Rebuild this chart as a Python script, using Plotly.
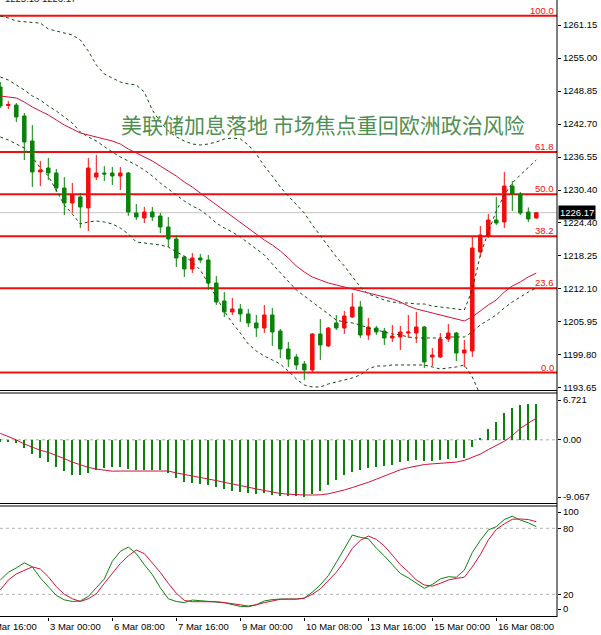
import plotly.graph_objects as go

# ---------------- data ----------------
bars = list(range(68))   # H4 bars, bar 0 = 2 Mar 00:00

open_ = [1249.60, 1246.15, 1246.24, 1244.19, 1239.53, 1233.76, 1234.50, 1233.57, 1230.77, 1227.98,
         1229.10, 1227.05, 1232.82, 1233.57, 1233.57, 1233.01, 1233.57, 1226.11, 1225.18, 1226.30,
         1225.56, 1223.51, 1221.27, 1217.92, 1215.68, 1217.73, 1217.36, 1213.07, 1209.72, 1207.67,
         1208.23, 1207.30, 1205.62, 1204.68, 1207.11, 1204.12, 1200.77, 1199.28, 1197.97, 1196.86,
         1203.57, 1201.33, 1205.62, 1204.68, 1206.74, 1208.60, 1203.38, 1204.68, 1204.12, 1202.82,
         1203.01, 1203.75, 1203.75, 1204.87, 1199.28, 1199.28, 1202.63, 1203.75, 1200.02, 1200.40,
         1218.85, 1221.83, 1224.81, 1224.44, 1231.14, 1229.65, 1226.30, 1225.18]
high = [1250.53, 1246.98, 1246.61, 1244.75, 1242.52, 1235.81, 1236.37, 1234.32, 1232.82, 1231.70,
        1229.84, 1236.37, 1236.93, 1234.87, 1234.69, 1234.69, 1233.76, 1227.79, 1227.23, 1227.23,
        1226.11, 1225.37, 1222.02, 1218.10, 1218.66, 1218.48, 1218.29, 1214.37, 1211.39, 1210.28,
        1209.16, 1208.23, 1207.11, 1208.97, 1208.41, 1204.50, 1202.07, 1199.84, 1198.53, 1203.75,
        1206.36, 1204.87, 1207.11, 1207.86, 1211.21, 1209.72, 1206.55, 1205.06, 1204.68, 1205.24,
        1205.06, 1207.11, 1207.67, 1205.06, 1200.96, 1203.75, 1205.43, 1203.94, 1202.45, 1221.64,
        1223.69, 1225.93, 1229.10, 1233.76, 1232.08, 1230.03, 1227.16, 1226.30]
low = [1245.68, 1245.50, 1243.08, 1235.99, 1230.96, 1231.14, 1232.26, 1230.03, 1225.74, 1226.11,
       1223.32, 1222.76, 1232.26, 1232.08, 1231.33, 1230.40, 1225.56, 1224.81, 1224.25, 1224.62,
       1222.39, 1219.78, 1216.05, 1214.19, 1214.93, 1216.80, 1211.77, 1208.97, 1206.74, 1207.11,
       1205.80, 1204.87, 1203.01, 1203.75, 1201.33, 1199.09, 1197.42, 1196.86, 1194.99, 1196.48,
       1198.72, 1201.14, 1204.31, 1203.57, 1206.55, 1202.82, 1202.45, 1203.38, 1201.52, 1202.07,
       1200.58, 1202.82, 1201.89, 1197.23, 1197.60, 1199.09, 1202.07, 1198.53, 1197.42, 1199.28,
       1217.92, 1221.46, 1223.88, 1223.32, 1226.49, 1225.74, 1224.44, 1225.10]
close = [1246.05, 1246.34, 1244.01, 1239.35, 1233.76, 1234.13, 1233.57, 1230.77, 1227.98, 1229.47,
         1227.23, 1234.50, 1233.57, 1233.38, 1233.01, 1233.57, 1226.30, 1225.37, 1226.30, 1225.37,
         1223.51, 1221.27, 1217.73, 1215.68, 1217.73, 1217.36, 1213.07, 1209.53, 1207.67, 1208.23,
         1207.30, 1205.62, 1204.68, 1207.11, 1203.94, 1200.77, 1198.90, 1197.79, 1196.86, 1203.57,
         1201.52, 1204.68, 1204.68, 1206.92, 1208.60, 1203.38, 1204.87, 1203.94, 1202.82, 1203.19,
         1203.94, 1203.94, 1204.87, 1198.35, 1199.65, 1202.63, 1203.75, 1200.02, 1200.58, 1219.59,
         1222.02, 1224.81, 1224.25, 1231.14, 1229.65, 1226.11, 1225.00, 1226.17]

# Bollinger bands (dashed) and moving average (red)
bb_upper = [1262.83, 1262.46, 1261.90, 1261.71, 1261.62, 1261.52, 1260.41, 1260.03, 1259.66, 1259.29,
            1258.36, 1256.31, 1253.70, 1252.02, 1251.27, 1250.53, 1250.16, 1249.97, 1248.66, 1245.31,
            1243.08, 1241.40, 1240.28, 1239.53, 1238.97, 1238.79, 1238.97, 1239.35, 1239.91, 1240.09,
            1239.91, 1238.79, 1237.11, 1234.87, 1233.01, 1230.96, 1229.28, 1227.79, 1226.11, 1223.88,
            1221.83, 1219.78, 1217.92, 1216.24, 1214.37, 1212.32, 1211.02, 1210.46, 1209.90, 1209.53,
            1209.34, 1209.34, 1209.16, 1209.16, 1208.78, 1208.60, 1208.41, 1208.23, 1208.04, 1211.77,
            1218.29, 1222.57, 1226.49, 1229.47, 1231.70, 1233.20, 1234.69, 1235.99]
bb_mid = [1251.46, 1250.90, 1249.97, 1249.04, 1247.92, 1247.17, 1246.06, 1245.12, 1244.01, 1242.89,
          1241.21, 1240.28, 1239.53, 1238.42, 1237.48, 1236.55, 1235.81, 1235.06, 1234.13, 1233.01,
          1231.70, 1230.59, 1229.47, 1228.35, 1227.42, 1226.67, 1225.56, 1224.25, 1223.32, 1222.57,
          1221.64, 1220.52, 1219.41, 1218.29, 1216.61, 1214.93, 1213.44, 1211.77, 1210.65, 1209.53,
          1208.41, 1207.30, 1206.17, 1205.80, 1205.62, 1205.24, 1204.68, 1204.31, 1203.94, 1203.57,
          1203.38, 1203.01, 1202.82, 1202.82, 1202.82, 1202.82, 1203.01, 1203.01, 1203.01, 1203.94,
          1205.24, 1206.17, 1207.11, 1208.41, 1209.53, 1210.46, 1211.39, 1212.14]
bb_lower = [1240.28, 1239.72, 1238.97, 1238.23, 1236.55, 1234.50, 1233.01, 1230.40, 1227.61, 1225.93,
            1224.07, 1224.44, 1224.62, 1224.44, 1224.07, 1223.32, 1222.20, 1220.71, 1220.52, 1220.34,
            1220.15, 1219.78, 1218.85, 1218.10, 1216.98, 1215.49, 1213.07, 1210.46, 1207.85, 1205.62,
            1203.75, 1201.70, 1200.40, 1199.46, 1198.72, 1197.97, 1196.67, 1195.18, 1194.06, 1193.69,
            1193.69, 1194.25, 1194.62, 1194.99, 1195.37, 1195.93, 1197.04, 1197.60, 1197.60, 1197.79,
            1197.79, 1197.79, 1197.79, 1197.79, 1197.42, 1197.04, 1197.23, 1197.42, 1197.79, 1195.55,
            1192.20, 1189.80]
ma_red = [1247.92, 1247.73, 1247.55, 1246.80, 1245.87, 1245.12, 1244.38, 1243.45, 1242.52, 1241.77,
          1241.02, 1240.65, 1240.28, 1239.91, 1239.53, 1238.97, 1238.04, 1237.30, 1236.55, 1235.81,
          1234.87, 1233.94, 1233.01, 1231.89, 1230.96, 1229.84, 1228.73, 1227.61, 1226.49, 1225.37,
          1224.25, 1223.13, 1222.02, 1221.08, 1220.15, 1219.03, 1217.73, 1216.24, 1215.12, 1214.19,
          1213.63, 1213.07, 1212.70, 1212.32, 1211.95, 1211.58, 1211.21, 1210.83, 1210.46, 1210.09,
          1209.53, 1208.78, 1208.23, 1207.85, 1207.48, 1207.11, 1206.74, 1206.36, 1205.99, 1206.74,
          1207.85, 1208.97, 1209.90, 1211.39, 1212.51, 1213.26, 1214.19, 1214.93]

current_price = 1226.17
fib_levels = [1196.38, 1212.08, 1221.79, 1229.63, 1237.48, 1262.89]
fib_labels = ["0.0", "23.6", "38.2", "50.0", "61.8", "100.0"]

price_ticks = [1261.15, 1255.00, 1248.85, 1242.70, 1236.55, 1230.40, 1224.40,
               1218.25, 1212.10, 1205.95, 1199.80, 1193.65]
price_tick_text = ["%.2f" % v for v in price_ticks]

# MACD
macd_hist = [-0.25, -0.3, -0.5, -1.2, -2.0, -2.6, -3.2, -3.9, -4.5, -5.0,
             -5.1, -4.8, -4.4, -4.1, -3.9, -3.9, -4.2, -4.3, -4.3, -4.4,
             -4.4, -4.8, -5.5, -6.0, -6.2, -6.3, -6.5, -6.8, -7.0, -7.3,
             -7.5, -7.6, -7.8, -7.7, -7.9, -8.0, -8.0, -8.1, -8.2, -7.8,
             -7.3, -6.5, -5.8, -5.0, -4.6, -4.3, -4.1, -3.9, -3.8, -3.6,
             -3.2, -3.0, -2.9, -3.0, -3.1, -2.9, -2.7, -2.6, -2.6, -1.1,
             0.2, 1.6, 2.6, 3.8, 4.5, 5.0, 5.1, 5.1]
macd_signal = [0.93, 0.5, 0.0, -0.6, -1.1, -1.5, -1.8, -2.2, -2.7, -3.2,
               -3.6, -3.95, -4.2, -4.4, -4.5, -4.48, -4.48, -4.48, -4.48, -4.48,
               -4.48, -4.48, -4.75, -4.95, -5.2, -5.45, -5.65, -5.85, -6.1, -6.3,
               -6.55, -6.8, -7.05, -7.3, -7.55, -7.7, -7.8, -7.9, -7.92, -7.92,
               -7.9, -7.75, -7.5, -7.2, -6.85, -6.5, -6.1, -5.65, -5.2, -4.75,
               -4.3, -4.0, -3.75, -3.55, -3.45, -3.38, -3.3, -3.2, -2.95, -2.55,
               -2.05, -1.4, -0.75, -0.2, 0.6, 1.65, 2.4, 3.1]
macd_max, macd_min = 6.721, -9.067

# Stochastic
stoch_k = [33, 40, 44, 48.7, 45, 35, 27, 19, 15, 13.5,
           14, 18, 26, 34, 50, 59, 63, 57, 47, 38,
           26, 16, 13.5, 12.5, 14.8, 14, 13.3, 13, 12.4, 11,
           9, 8.7, 10.5, 14, 15.2, 15.7, 15.7, 15.7, 16.5, 22,
           28.5, 37, 49, 61, 73.9, 71.8, 70.5, 62, 55, 47,
           39, 35, 30, 25.4, 29, 34, 36, 35.5, 42, 58,
           69, 78.5, 81.5, 88, 91, 87.5, 85, 81.5]
stoch_d = [23.9, 33, 38.5, 42, 45, 43, 36, 27, 20, 16,
           13.5, 16, 20.5, 30, 39, 48, 55, 60.3, 57, 49,
           40, 30, 21, 14.5, 13.3, 13.3, 13.3, 13.3, 12.5, 11.8,
           10.5, 9.4, 10.5, 12.4, 14, 15.5, 15.7, 15.7, 16.5, 20,
           25, 33, 40, 50, 61.8, 69, 73, 70, 64, 55.7,
           47, 40.5, 33, 28.5, 27.5, 30, 33, 34.5, 35.5, 45,
           56, 69.4, 79, 84, 88.2, 88.5, 88, 86]
stoch_levels = [80, 20]

x_label_bars = [-2, 6, 14, 22, 30, 38, 46, 54, 62]
x_labels = ["1 Mar 16:00", "3 Mar 00:00", "6 Mar 08:00", "7 Mar 16:00", "9 Mar 00:00",
            "10 Mar 08:00", "13 Mar 16:00", "15 Mar 00:00", "16 Mar 08:00"]

title_text = "美联储加息落地 市场焦点重回欧洲政治风险"

# ---------------- styling / layout ----------------
W, H = 601, 635
ML, MR, MT, MB = 0, 44, 0, 18
PH = H - MT - MB          # plot area height in px


def py(px):
    """pixel row (from top of plot area) -> paper fraction"""
    return (PH - px) / PH


X_MIN, X_MAX = -0.0375, 69.5875


def px_of_bar(k):
    return (k - X_MIN) / (X_MAX - X_MIN)


RED = "#f40d0d"
GREEN = "#0b830b"
DGREEN = "#114a11"
MARED = "#d2123a"
FONT = "Liberation Sans, Arial, sans-serif"
FS = 9.5

fig = go.Figure()

fig.add_trace(go.Candlestick(
    x=bars, open=open_, high=high, low=low, close=close,
    increasing=dict(line=dict(color=RED, width=1), fillcolor=RED),
    decreasing=dict(line=dict(color=GREEN, width=1), fillcolor=GREEN),
    whiskerwidth=0, xaxis="x", yaxis="y", hoverinfo="skip", showlegend=False))

dash = "3px,3px"
fig.add_trace(go.Scatter(x=bars, y=bb_upper, mode="lines", yaxis="y",
                         line=dict(color=DGREEN, width=1, dash=dash), showlegend=False))
fig.add_trace(go.Scatter(x=bars, y=bb_mid, mode="lines", yaxis="y",
                         line=dict(color=DGREEN, width=1, dash=dash), showlegend=False))
fig.add_trace(go.Scatter(x=bars[:len(bb_lower)], y=bb_lower, mode="lines", yaxis="y",
                         line=dict(color=DGREEN, width=1, dash=dash), showlegend=False))
fig.add_trace(go.Scatter(x=bars, y=ma_red, mode="lines", yaxis="y",
                         line=dict(color=MARED, width=1), showlegend=False))

fig.add_trace(go.Bar(x=bars, y=macd_hist, width=0.18, yaxis="y2",
                     marker=dict(color=GREEN, line=dict(width=0)), showlegend=False))
fig.add_trace(go.Scatter(x=bars, y=macd_signal, mode="lines", yaxis="y2",
                         line=dict(color=MARED, width=1), showlegend=False))

fig.add_trace(go.Scatter(x=bars, y=stoch_k, mode="lines", yaxis="y3",
                         line=dict(color=GREEN, width=1), showlegend=False))
fig.add_trace(go.Scatter(x=bars, y=stoch_d, mode="lines", yaxis="y3",
                         line=dict(color=MARED, width=1), showlegend=False))

shapes = []
# fibonacci lines
for lv in fib_levels:
    shapes.append(dict(type="line", xref="paper", x0=0, x1=1, yref="y", y0=lv, y1=lv,
                       line=dict(color=RED, width=2), layer="below"))
# current price line
shapes.append(dict(type="line", xref="paper", x0=0, x1=1, yref="y", y0=current_price,
                   y1=current_price, line=dict(color="#c4c4c4", width=1), layer="below"))
# macd zero level
shapes.append(dict(type="line", xref="paper", x0=0, x1=1, yref="y2", y0=0, y1=0,
                   line=dict(color="#a8a8a8", width=1, dash="3px,3px"), layer="below"))
# stochastic levels
for lv in stoch_levels:
    shapes.append(dict(type="line", xref="paper", x0=0, x1=1, yref="y3", y0=lv, y1=lv,
                       line=dict(color="#b4b4b4", width=1, dash="3px,3px"), layer="below"))
# panel separators (double lines) and frame
for pxrow in [390.5, 393, 503.5, 506, 616.5]:
    shapes.append(dict(type="line", xref="paper", x0=0, x1=1, yref="paper",
                       y0=py(pxrow), y1=py(pxrow), line=dict(color="black", width=1)))
shapes.append(dict(type="line", xref="paper", x0=1, x1=1, yref="paper", y0=py(617), y1=1,
                   line=dict(color="black", width=1)))

annotations = []
for lv, lab in zip(fib_levels, fib_labels):
    annotations.append(dict(xref="paper", x=556 / 557, yref="y", y=lv, text=lab,
                            xanchor="right", yanchor="bottom", yshift=-2, showarrow=False,
                            font=dict(family=FONT, size=FS, color=RED)))
annotations.append(dict(xref="paper", x=1, yref="y", y=current_price,
                        text="%.2f" % current_price, xanchor="left", yanchor="middle",
                        xshift=1, showarrow=False, bgcolor="black", borderpad=1,
                        font=dict(family=FONT, size=FS, color="white")))
for k, lab in zip(x_label_bars, x_labels):
    annotations.append(dict(xref="paper", x=px_of_bar(k), yref="paper", y=py(626),
                            text=lab, xanchor="left", yanchor="middle", xshift=0,
                            showarrow=False, font=dict(family=FONT, size=FS, color="black")))
annotations.append(dict(xref="paper", x=0.58, yref="paper", y=py(124), text=title_text,
                        xanchor="center", yanchor="middle", showarrow=False,
                        font=dict(family="Noto Sans CJK SC", size=21, color="#4f8f52")))
annotations.append(dict(xref="paper", x=0, yref="paper", y=1, xshift=3, yshift=-6,
                        text="1225.18 1226.17", xanchor="left", yanchor="bottom",
                        showarrow=False, font=dict(family=FONT, size=FS, color="#222222")))

axis_common = dict(showgrid=False, zeroline=False, showline=False, fixedrange=True)
fig.update_layout(
    width=W, height=H, autosize=False,
    margin=dict(l=ML, r=MR, t=MT, b=MB, pad=0),
    paper_bgcolor="white", plot_bgcolor="white",
    font=dict(family=FONT, size=FS, color="black"),
    hovermode=False, showlegend=False, boxgap=0.38, bargap=0,
    xaxis=dict(range=[X_MIN, X_MAX], domain=[0, 1], anchor="y3",
               tickvals=x_label_bars[1:], ticks="outside", ticklen=3, tickcolor="black",
               showticklabels=False, rangeslider=dict(visible=False), **axis_common),
    yaxis=dict(domain=[py(391), 1], range=[1192.94, 1265.81], side="right", anchor="x",
               tickvals=price_ticks, ticktext=price_tick_text, ticks="outside", ticklen=3,
               tickcolor="black", tickfont=dict(family=FONT, size=FS), **axis_common),
    yaxis2=dict(domain=[py(503), py(393)], range=[macd_min, macd_max], side="right",
                anchor="x", tickvals=[5.716, 0, -8.206], ticktext=["6.721", "0.00", "-9.067"],
                ticks="outside", ticklen=3, tickcolor="black",
                tickfont=dict(family=FONT, size=FS), **axis_common),
    yaxis3=dict(domain=[0, py(505)], range=[-0.6, 101.2], side="right", anchor="x",
                tickvals=[94.8, 80, 20, 6.6], ticktext=["100", "80", "20", "0"],
                ticks="outside", ticklen=3, tickcolor="black",
                tickfont=dict(family=FONT, size=FS), **axis_common),
    shapes=shapes, annotations=annotations,
)

fig.write_html("out.html", config={"displayModeBar": False},
               post_script="document.body.style.margin='0px';"
                           "document.body.style.overflow='hidden';")
